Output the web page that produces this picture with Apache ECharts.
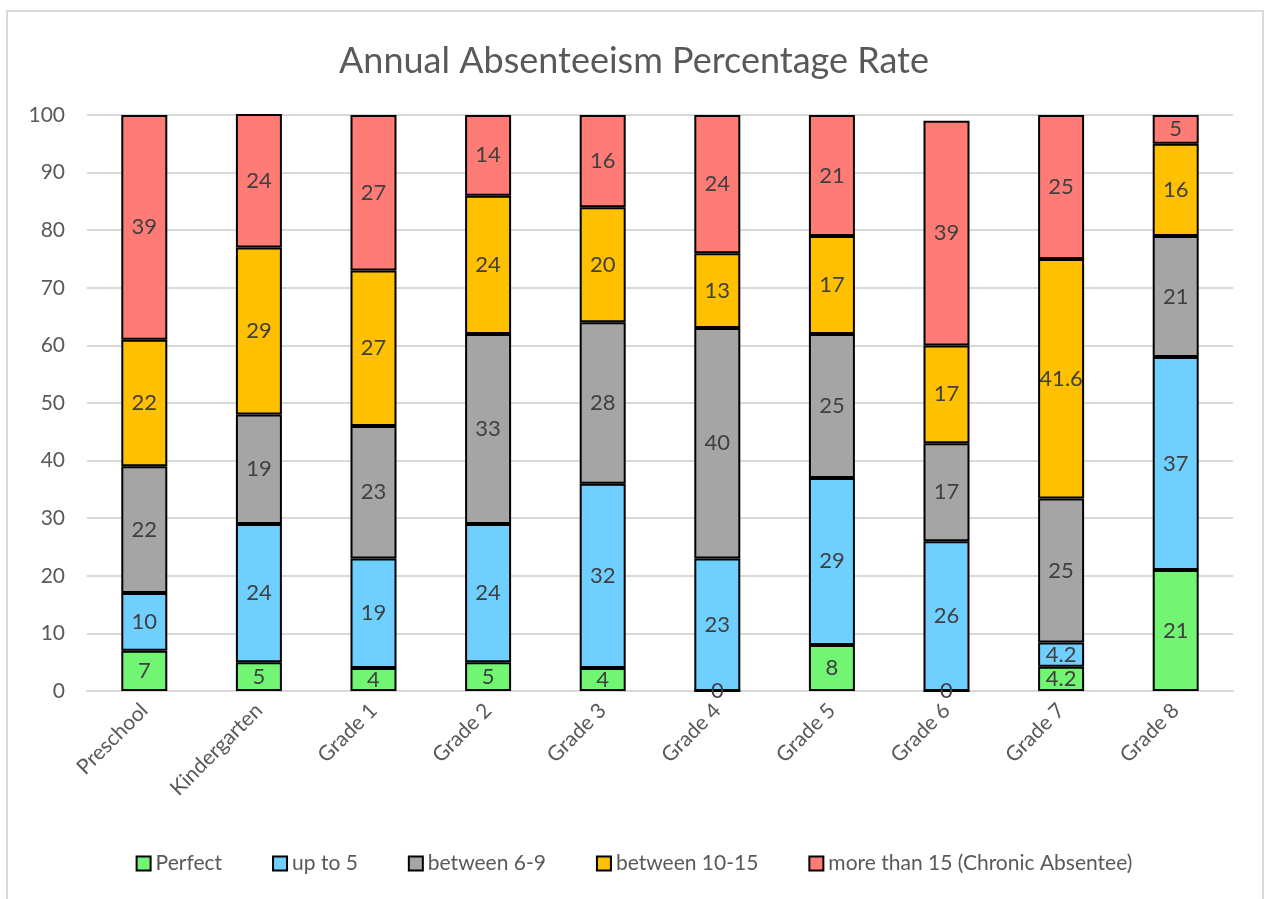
<!DOCTYPE html>
<html>
<head>
<meta charset="utf-8">
<script src="https://cdn.jsdelivr.net/npm/echarts@6/dist/echarts.min.js"></script>
<style>
html,body{margin:0;padding:0;background:#fff;}
#frame{position:absolute;left:6px;top:10px;width:1258px;height:900px;border:2px solid #d9d9d9;box-sizing:border-box;}
#chart{position:absolute;left:0;top:0;width:1268px;height:899px;}
</style>
</head>
<body>
<div id="frame"></div>
<div id="chart"></div>
<script>
const categories = ['Preschool','Kindergarten','Grade 1','Grade 2','Grade 3','Grade 4','Grade 5','Grade 6','Grade 7','Grade 8'];
const seriesNames = ['Perfect','up to 5','between 6-9','between 10-15','more than 15 (Chronic Absentee)'];
const perfect = [7,5,4,5,4,0,8,0,4.2,21];
const upTo5 = [10,24,19,24,32,23,29,26,4.2,37];
const between6to9 = [22,19,23,33,28,40,25,17,25,21];
const between10to15 = [22,29,27,24,20,13,17,17,41.6,16];
const moreThan15 = [39,24,27,14,16,24,21,39,25,5];
const yTicks = [0,10,20,30,40,50,60,70,80,90,100];

const colors = ['#71F572','#6FCFFF','#A5A5A5','#FFC000','#FF7B76'];
const values = [perfect, upTo5, between6to9, between10to15, moreThan15];
const font = 'Lato';

const chart = echarts.init(document.getElementById('chart'));
chart.setOption({
  animation:false,
  title:{text:'Annual Absenteeism Percentage Rate',left:'center',top:38,
    textStyle:{fontFamily:font,fontSize:36,fontWeight:'normal',color:'#595959'}},
  legend:{bottom:20,left:'center',itemWidth:14,itemHeight:14,itemGap:50,
    textStyle:{fontFamily:font,fontSize:21,color:'#595959'},
    data:seriesNames.map((n,i)=>({name:n,icon:'rect',itemStyle:{color:colors[i],borderColor:'#000',borderWidth:2}}))},
  grid:{left:87,right:35,top:115,bottom:208},
  xAxis:{type:'category',data:categories,
    axisLine:{lineStyle:{color:'#d9d9d9',width:2}},axisTick:{show:false},
    axisLabel:{rotate:45,fontFamily:font,fontSize:21,color:'#595959',margin:16,interval:0}},
  yAxis:{type:'value',min:yTicks[0],max:yTicks[yTicks.length-1],interval:10,
    axisLine:{show:false},axisTick:{show:false},
    splitLine:{lineStyle:{color:'#d9d9d9',width:2}},
    axisLabel:{fontFamily:font,fontSize:21,color:'#595959',margin:22}},
  series:values.map((v,i)=>({
    name:seriesNames[i],type:'bar',stack:'total',data:v,barWidth:46,
    itemStyle:{color:colors[i],borderColor:'#000',borderWidth:2},
    label:{show:true,position:'inside',fontFamily:font,fontSize:22,color:'#404040',
      formatter:p=>String(p.value)}
  }))
});
</script>
</body>
</html>
